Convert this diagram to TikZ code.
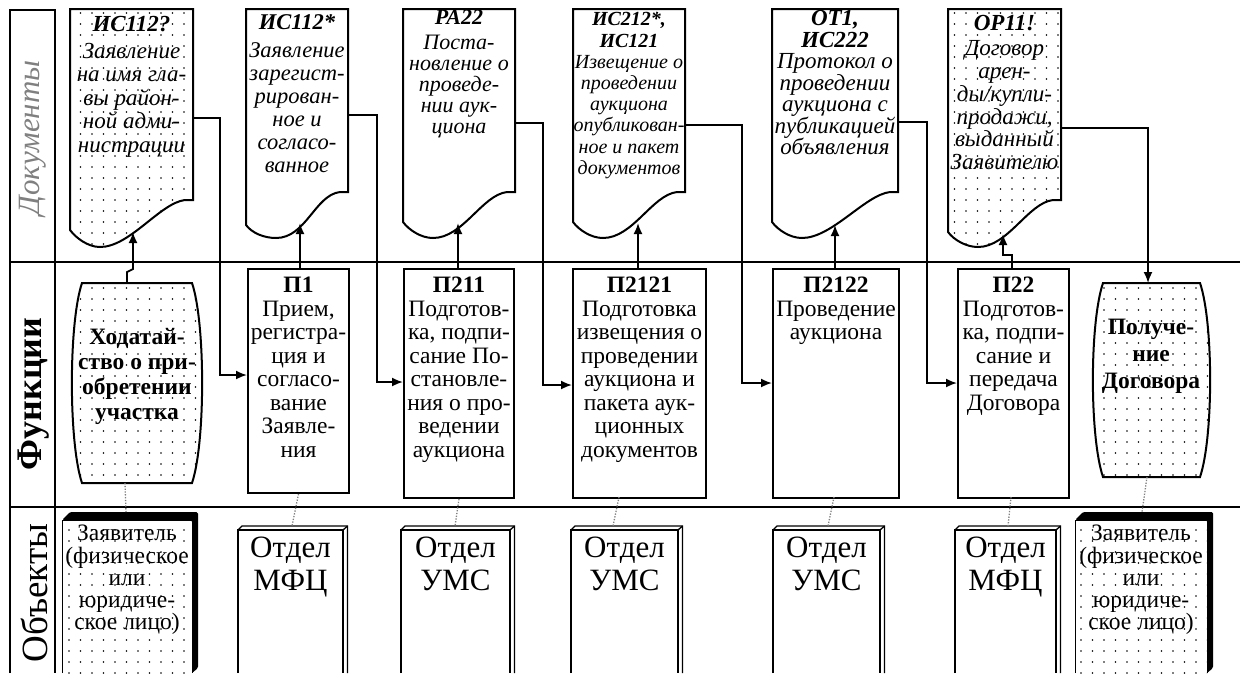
\documentclass[tikz,border=0pt]{standalone}
\usepackage{fontspec}
\setmainfont{Liberation Serif}
\usetikzlibrary{arrows.meta,patterns.meta}
\tikzdeclarepattern{
  name=sdots,
  type=uncolored,
  bottom left={(-1pt,-1pt)},
  top right={(1pt,1pt)},
  tile size={(11.5pt,11pt)},
  code={\fill (0pt,0pt) circle (0.8pt);}
}
% opts, x1, x2, yl, ydip, yr
\newcommand\docshape[6]{%
  \draw[docline,#1] (#2,9) -- (#3,9) -- (#3,#6) -- (#3-8,#6)
    .. controls (#3-33,#6+3) and (#2+60,#5) .. (#2+30,#5)
    .. controls (#2+18,#5) and (#2+6,#4+8) .. (#2,#4) -- cycle;}
% opts, xl, xr, yt, yb
\newcommand\barrelshape[5]{%
  \draw[docline,#1] (#2+10,#4) -- (#3-10,#4)
    .. controls (#3+3.5,#4+40) and (#3+3.5,#5-40) .. (#3-10,#5) -- (#2+10,#5)
    .. controls (#2-3.5,#5-40) and (#2-3.5,#4+40) .. (#2+10,#4) -- cycle;}
% x1, x2, front top
\newcommand\objwhite[3]{%
  \draw[objline] (#1,673) -- (#1,#3) -- (#2,#3) -- (#2,673);
  \draw[objline] (#1,#3) -- (#1+4,#3-4) -- (#2+4.5,#3-4) -- (#2+4.5,673);
  \draw[objline] (#2,#3) -- (#2+4.5,#3-4);}
\newcommand\objblack[3]{%
  \fill[black,rounded corners=1.5pt] (#1,#3) -- (#1+8,#3-8) -- (#2+6,#3-8) -- (#2+6,668) -- (#2,673) -- (#2,#3) -- cycle;
  \draw[line width=1pt,pattern=sdots] (#1,673) -- (#1,#3) -- (#2,#3) -- (#2,673);}
\begin{document}
\begin{tikzpicture}[x=1pt,y=-1pt,
  frame/.style={line width=2pt},
  rowline/.style={line width=2.6pt},
  docline/.style={draw,line width=2pt},
  objline/.style={line width=1.3pt},
  fbox/.style={draw,line width=2pt,inner sep=0pt,anchor=north west},
  conn/.style={line width=1.8pt,-{Latex[length=11pt,width=9pt]}},
  dconn/.style={gray,line width=1.3pt,dash pattern=on 1.3pt off 1.5pt},
  doctext/.style 2 args={font=\fontsize{#1}{#2}\selectfont\itshape,align=center,inner sep=0pt,anchor=north},
  ftext/.style={font=\fontsize{23.5}{23.5}\selectfont,align=center,inner sep=0pt,anchor=north},
  btext/.style={font=\fontsize{23.5}{#1}\selectfont\bfseries,align=center,inner sep=0pt},
  otext/.style={font=\fontsize{31}{32.5}\selectfont,align=center,inner sep=0pt,anchor=north},
  ztext/.style={font=\fontsize{23.5}{22.3}\selectfont,align=center,inner sep=0pt,anchor=north},
  lab/.style={rotate=90,inner sep=0pt}
]
\useasboundingbox (0,0) rectangle (1249,673);
\fill[white] (0,0) rectangle (1249,673);

% frame and rows
\draw[frame] (10,673) -- (10,10) -- (55,10) -- (55,673);
\draw[rowline] (10,262) -- (1240,262);
\draw[rowline] (10,507) -- (1240,507);
\node[lab,font=\fontsize{31}{31}\selectfont\itshape,text=gray] (lDoc) at (33,138) {Документы};
\node[lab,font=\fontsize{36}{36}\selectfont\bfseries] (lFun) at (34,394) {Функции};
\node[lab,font=\fontsize{37}{37}\selectfont] (lObj) at (34,593) {Объекты};

% documents
\docshape{pattern=sdots}{70}{193}{230}{247}{200}
\node[doctext={23}{23.5}] (d1) at (131.5,16.4) {\textbf{ИС112?}\\[3pt]Заявление\\на имя гла-\\вы район-\\ной адми-\\нистрации};
\docshape{}{246}{348}{225}{238}{192}
\node[doctext={22.5}{23}] (d2) at (297,14.6) {\textbf{ИС112*}\\[5pt]Заявление\\зарегист-\\рирован-\\ное и\\согласо-\\ванное};
\docshape{}{403}{515}{222}{238}{192}
\node[doctext={22}{21.2}] (d3) at (459,10.2) {\textbf{РА22}\\[3pt]Поста-\\новление о\\проведе-\\нии аук-\\циона};
\docshape{}{573}{685}{222}{238}{192}
\node[doctext={20}{21.2}] (d4) at (629,12.4) {\textbf{ИС212*,}\\\textbf{ИС121}\\Извещение о\\проведении\\аукциона\\опубликован-\\ное и пакет\\документов};
\docshape{}{772}{898}{222}{238}{192}
\node[doctext={23}{21.5}] (d5) at (835,10.4) {\textbf{ОТ1,}\\\textbf{ИС222}\\Протокол о\\проведении\\аукциона с\\публикацией\\объявления};
\docshape{pattern=sdots}{948}{1061}{232}{247}{200}
\node[doctext={23}{22.8}] (d6) at (1004.5,15.4) {\textbf{ОР11!}\\[2pt]Договор\\арен-\\ды/купли-\\продажи,\\выданный\\Заявителю};

\coordinate (d1r) at (193,118); \coordinate (d1b) at (133,232);
\coordinate (d2r) at (348,115); \coordinate (d2b) at (300,223);
\coordinate (d3r) at (515,123); \coordinate (d3b) at (458,223);
\coordinate (d4r) at (685,125); \coordinate (d4b) at (638,223);
\coordinate (d5r) at (898,122); \coordinate (d5b) at (835,225);
\coordinate (d6r) at (1061,128); \coordinate (d6b) at (1003,234);

% functions
\barrelshape{pattern=sdots}{72}{202}{283}{483}
\node[btext=25] (b1) at (137,376) {Ходатай-\\ство о при-\\обретении\\участка};
\coordinate (b1t) at (127,283); \coordinate (b1s) at (125,483);
\barrelshape{pattern=sdots}{1093}{1210}{283}{477}
\node[btext=27] (b2) at (1151,356) {Получе-\\ние\\Договора};
\coordinate (b2t) at (1148,283); \coordinate (b2s) at (1147,477);

\node[fbox,minimum width=101pt,minimum height=224pt] (p1) at (247,268) {};
\node[ftext] (t1) at (p1.north) [yshift=-9pt] {\textbf{П1}\\Прием,\\регистра-\\ция и\\согласо-\\вание\\Заявле-\\ния};
\node[fbox,minimum width=110pt,minimum height=229pt] (p2) at (403,268) {};
\node[ftext] (t2) at (p2.north) [yshift=-9pt] {\textbf{П211}\\Подготов-\\ка, подпи-\\сание По-\\становле-\\ния о про-\\ведении\\аукциона};
\node[fbox,minimum width=133pt,minimum height=229pt] (p3) at (572,268) {};
\node[ftext] (t3) at (p3.north) [yshift=-9pt] {\textbf{П2121}\\Подготовка\\извещения о\\проведении\\аукциона и\\пакета аук-\\ционных\\документов};
\node[fbox,minimum width=126pt,minimum height=229pt] (p4) at (772,268) {};
\node[ftext] (t4) at (p4.north) [yshift=-9pt] {\textbf{П2122}\\Проведение\\аукциона};
\node[fbox,minimum width=111pt,minimum height=229pt] (p5) at (957,268) {};
\node[ftext] (t5) at (p5.north) [yshift=-9pt] {\textbf{П22}\\Подготов-\\ка, подпи-\\сание и\\передача\\Договора};

% objects
\objblack{62}{192}{520}
\node[ztext] (o1) at (127,525) {Заявитель\\(физическое\\или\\юридиче-\\ское лицо)};
\objwhite{238}{343}{530}
\node[otext] (o2) at (290.5,536.8) {Отдел\\МФЦ};
\objwhite{401}{510}{530}
\node[otext] (o3) at (455.5,536.8) {Отдел\\УМС};
\objwhite{571}{678}{530}
\node[otext] (o4) at (624.5,536.8) {Отдел\\УМС};
\objwhite{773}{880}{530}
\node[otext] (o5) at (826.5,536.8) {Отдел\\УМС};
\objwhite{955}{1056}{530}
\node[otext] (o6) at (1005.5,536.8) {Отдел\\МФЦ};
\objblack{1075}{1207}{520}
\node[ztext] (o7) at (1141,525) {Заявитель\\(физическое\\или\\юридиче-\\ское лицо)};
\coordinate (o1t) at (126,512); \coordinate (o2t) at (292,526);
\coordinate (o3t) at (455,526); \coordinate (o4t) at (613,526);
\coordinate (o5t) at (828,526); \coordinate (o6t) at (1008,526);
\coordinate (o7t) at (1142,512);
\coordinate (p3s) at (619,497); \coordinate (p4s) at (834,497); \coordinate (p5s) at (1011,497);

% connectors: functions -> documents
\draw[conn] (b1t) -- (127,272) -- (133,269) -- (d1b);
\draw[conn] (d2b |- p1.north) -- (d2b);
\draw[conn] (d3b |- p2.north) -- (d3b);
\draw[conn] (d4b |- p3.north) -- (d4b);
\draw[conn] (d5b |- p4.north) -- (d5b);
\draw[conn] (1012,268) -- (1012,255) -- (1003,255) -- (d6b);

% connectors: documents -> functions
\coordinate (j1) at (220,375);
\coordinate (j2) at (377,382);
\coordinate (j3) at (543,385);
\coordinate (j4) at (742,383);
\coordinate (j5) at (927,383);
\draw[conn] (d1r) -| (j1) -- (j1 -| p1.west);
\draw[conn] (d2r) -| (j2) -- (j2 -| p2.west);
\draw[conn] (d3r) -| (j3) -- (j3 -| p3.west);
\draw[conn] (d4r) -| (j4) -- (j4 -| p4.west);
\draw[conn] (d5r) -| (j5) -- (j5 -| p5.west);
\draw[conn] (d6r) -| (b2t);

% dotted links functions - objects
\draw[dconn] (b1s) -- (o1t);
\draw[dconn] (p1.south) -- (o2t);
\draw[dconn] (p2.south) -- (o3t);
\draw[dconn] (p3s) -- (o4t);
\draw[dconn] (p4s) -- (o5t);
\draw[dconn] (p5s) -- (o6t);
\draw[dconn] (b2s) -- (o7t);
\end{tikzpicture}
\end{document}
